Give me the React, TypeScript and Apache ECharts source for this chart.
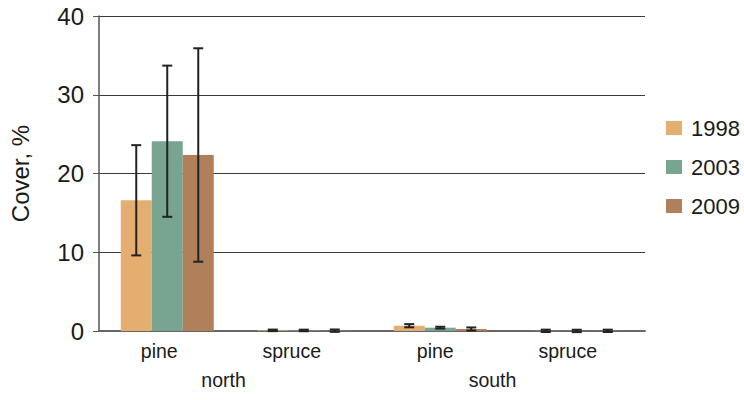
import React, { useEffect, useRef } from "react";
import * as echarts from "echarts";

const categories = ["pine", "spruce", "pine", "spruce"];
const groups = ["north", "south"];
const years = ["1998", "2003", "2009"];
const colors = ["#E4AE70", "#78A591", "#B0805A"];

const mean1998 = [16.6, 0.08, 0.67, 0.02];
const mean2003 = [24.1, 0.07, 0.42, 0.01];
const mean2009 = [22.35, 0.04, 0.25, 0.02];
const sd1998 = [7.0, 0.1, 0.2, 0.15];
const sd2003 = [9.6, 0.1, 0.12, 0.15];
const sd2009 = [13.55, 0.15, 0.2, 0.15];

const yTicks = [0, 10, 20, 30, 40];

const means = [mean1998, mean2003, mean2009];
const sds = [sd1998, sd2003, sd2009];

const FONT = "'Liberation Sans', Arial, Helvetica, sans-serif";
const BAR_W = 31;

export default function App() {
  const ref = useRef<HTMLDivElement>(null);

  useEffect(() => {
    if (!ref.current) return;
    const chart = echarts.init(ref.current, null, { renderer: "svg" });

    const barSeries = years.map((y, k) => ({
      name: y,
      type: "bar",
      xAxisIndex: 0,
      yAxisIndex: 0,
      barWidth: BAR_W,
      barGap: "0%",
      itemStyle: { color: colors[k] },
      data: means[k],
    }));

    const errSeries = years.map((y, k) => ({
      name: "err" + y,
      type: "custom",
      xAxisIndex: 0,
      yAxisIndex: 0,
      clip: false,
      z: 5,
      encode: { x: 0, y: 1 },
      data: categories.map((_, i) => [i, means[k][i], sds[k][i]]),
      renderItem: (params: any, api: any) => {
        const idx = api.value(0);
        const m = api.value(1);
        const s = api.value(2);
        const top = api.coord([idx, m + s]);
        const bot = api.coord([idx, m - s]);
        const x = top[0] + (k - 1) * BAR_W;
        const hw = 5;
        const st = { stroke: "#222", lineWidth: 2 };
        return {
          type: "group",
          children: [
            { type: "line", shape: { x1: x, y1: top[1], x2: x, y2: bot[1] }, style: st },
            { type: "line", shape: { x1: x - hw, y1: top[1], x2: x + hw, y2: top[1] }, style: st },
            { type: "line", shape: { x1: x - hw, y1: bot[1], x2: x + hw, y2: bot[1] }, style: st },
          ],
        };
      },
    }));

    const catShift = [16, 24, 10, 18];
    const grpShift = [24, 32];

    const rich: any = {};
    catShift.forEach((p, i) => {
      rich["c" + i] = { fontSize: 19.5, fontFamily: FONT, color: "#1a1a1a", padding: [0, p, 0, 0] };
    });
    const richG: any = {};
    grpShift.forEach((p, i) => {
      richG["g" + i] = { fontSize: 19.5, fontFamily: FONT, color: "#1a1a1a", padding: [0, p, 0, 0] };
    });

    chart.setOption({
      animation: false,
      backgroundColor: "#ffffff",
      grid: { left: 95, right: 99, top: 16, bottom: 69, containLabel: false },
      legend: {
        data: years,
        orient: "vertical",
        left: 666,
        top: 117,
        padding: 0,
        itemWidth: 16,
        itemHeight: 14,
        itemGap: 17,
        icon: "rect",
        textStyle: { fontSize: 22, fontFamily: FONT, color: "#1a1a1a", padding: [0, 0, 0, 4] },
      },
      xAxis: [
        {
          type: "category",
          data: categories,
          position: "bottom",
          axisLine: { show: true, lineStyle: { color: "#666", width: 2 } },
          axisTick: { show: false },
          axisLabel: {
            margin: 10,
            formatter: (v: string, i: number) => `{c${i}|${v}}`,
            rich,
          },
        },
        {
          type: "category",
          data: groups,
          position: "bottom",
          axisLine: { show: false },
          axisTick: { show: false },
          axisLabel: {
            margin: 39,
            formatter: (v: string, i: number) => `{g${i}|${v}}`,
            rich: richG,
          },
        },
      ],
      yAxis: {
        type: "value",
        min: yTicks[0],
        max: yTicks[yTicks.length - 1],
        interval: 10,
        name: "Cover, %",
        nameLocation: "middle",
        nameRotate: 90,
        nameGap: 67,
        nameTextStyle: { fontSize: 24, fontFamily: FONT, color: "#1a1a1a" },
        axisLine: { show: true, lineStyle: { color: "#555", width: 1.5 } },
        axisTick: { show: true, length: 6, lineStyle: { color: "#555" } },
        axisLabel: { margin: 15, fontSize: 24, fontFamily: FONT, color: "#1a1a1a" },
        splitLine: { show: true, lineStyle: { color: "#3a3a3a", width: 1 } },
      },
      series: [...barSeries, ...errSeries],
    });

    return () => chart.dispose();
  }, []);

  return (
    <div
      ref={ref}
      style={{ position: "absolute", left: 0, top: 0, width: 744, height: 400 }}
    />
  );
}
